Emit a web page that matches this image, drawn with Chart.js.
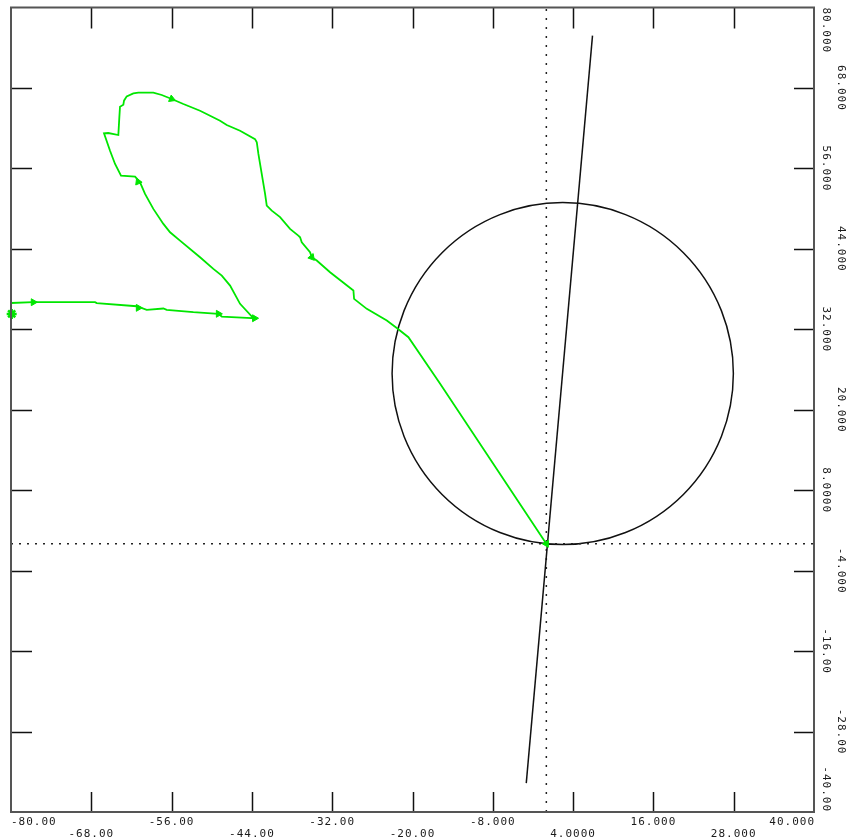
<!DOCTYPE html>
<html>
<head>
<meta charset="utf-8">
<script src="https://cdn.jsdelivr.net/npm/chart.js@4/dist/chart.umd.min.js"></script>
<style>
  html, body { margin: 0; padding: 0; background: #fff; }
  #wrap { width: 846px; height: 840px; }
</style>
</head>
<body>
<div id="wrap"><canvas id="plot" width="846" height="840"></canvas></div>
<script>
// axis ticks and their printed labels
const xTicks = [-80, -68, -56, -44, -32, -20, -8, 4, 16, 28, 40];
const xTickLabels = ["-80.00", "-68.00", "-56.00", "-44.00", "-32.00", "-20.00", "-8.000", "4.0000", "16.000", "28.000", "40.000"];
const yTicks = [80, 68, 56, 44, 32, 20, 8, -4, -16, -28, -40];
const yTickLabels = ["80.000", "68.000", "56.000", "44.000", "32.000", "20.000", "8.0000", "-4.000", "-16.00", "-28.00", "-40.00"];

// green track
const trackX = [-80, -76.67, -67.44, -67.19, -61.21, -59.72, -57.23, -56.73, -52.75, -49.01, -48.5, -44.77, -43.78,
  -45.77, -47.26, -48.5, -49.76, -51.75, -54.74, -56.23, -57.23, -58.73, -59.97, -60.72, -61.46, -63.56, -64.45, -65.2, -66.1,
  -65.46, -63.96, -63.81, -63.71, -63.21, -63.11, -62.71, -61.72, -60.97, -58.73, -57.47, -55.98, -54.24, -51.75, -50.25,
  -48.76, -47.76, -45.77, -43.53, -43.27, -43.03, -42.53, -42.03, -41.78, -41.03, -39.79, -38.3, -37.06, -36.8, -36.55,
  -35.31, -35.05, -34.31, -32.32, -28.83, -28.73, -26.83, -23.84, -22.35, -20.61, -15.87, 0];
const trackY = [35.92, 36.04, 36.04, 35.9, 35.44, 34.9, 35.1, 34.9, 34.55, 34.31, 33.9, 33.71, 33.65,
  35.8, 38.52, 40.01, 41.01, 42.74, 45.23, 46.47, 47.72, 49.96, 52.19, 53.92, 54.77, 54.92, 56.66, 58.64, 61.22,
  61.28, 60.98, 63.61, 65.2, 65.5, 66.1, 66.74, 67.18, 67.29, 67.29, 66.95, 66.35, 65.6, 64.6, 63.86,
  63.11, 62.47, 61.62, 60.36, 59.91, 58.15, 55.17, 52.19, 50.45, 49.7, 48.73, 46.97, 45.98, 45.72, 44.98,
  43.49, 42.74, 42.25, 40.51, 37.78, 36.54, 35.05, 33.31, 32.19, 30.82, 23.87, 0];

// direction arrows on the track
const arrowX = [-76.67, -60.97, -49.01, -43.6, -61.0, -55.98, -35.05, 0];
const arrowY = [36.04, 35.2, 34.31, 33.65, 54.0, 66.35, 42.74, 0];
const arrowAngle = [90, 90, 90, 90, -23, 112, 140, 150];
const startMarkX = [-79.9];
const startMarkY = [34.3];

// black reference line and circle
const refLineX = [-3.0, 6.9];
const refLineY = [-35.7, 75.8];
const circleCenter = [2.45, 25.4];
const circleRadius = 25.5;

const GREEN = "#00e600";
const FONT = '11px "DejaVu Sans Mono", "Liberation Mono", monospace';

const pts = (xs, ys) => xs.map((x, i) => ({ x, y: ys[i] }));

const framePlugin = {
  id: "frame",
  beforeDatasetsDraw(chart) {
    const { ctx, chartArea, scales } = chart;
    const cx = scales.x.getPixelForValue(circleCenter[0]);
    const cy = scales.y.getPixelForValue(circleCenter[1]);
    const rx = Math.abs(scales.x.getPixelForValue(circleCenter[0] + circleRadius) - cx);
    const ry = Math.abs(scales.y.getPixelForValue(circleCenter[1] + circleRadius) - cy);
    ctx.save();
    ctx.beginPath();
    ctx.rect(chartArea.left, chartArea.top, chartArea.right - chartArea.left, chartArea.bottom - chartArea.top);
    ctx.clip();
    ctx.beginPath();
    ctx.ellipse(cx, cy, rx, ry, 0, 0, Math.PI * 2);
    ctx.strokeStyle = "#111";
    ctx.lineWidth = 1.5;
    ctx.stroke();
    ctx.restore();
  },
  afterDraw(chart) {
    const { ctx, chartArea: a, scales } = chart;
    ctx.save();
    // inward ticks
    ctx.strokeStyle = "#111";
    ctx.lineWidth = 1.5;
    ctx.beginPath();
    xTicks.slice(1, -1).forEach((v) => {
      const px = Math.round(scales.x.getPixelForValue(v)) + 0.5;
      ctx.moveTo(px, a.top); ctx.lineTo(px, a.top + 21);
      ctx.moveTo(px, a.bottom); ctx.lineTo(px, a.bottom - 20);
    });
    yTicks.slice(1, -1).forEach((v) => {
      const py = Math.round(scales.y.getPixelForValue(v)) + 0.5;
      ctx.moveTo(a.left, py); ctx.lineTo(a.left + 21, py);
      ctx.moveTo(a.right, py); ctx.lineTo(a.right - 20, py);
    });
    ctx.stroke();

    // frame
    ctx.strokeStyle = "#555";
    ctx.lineWidth = 2;
    ctx.strokeRect(a.left, a.top, a.right - a.left, a.bottom - a.top);

    // tick labels
    ctx.font = FONT;
    ctx.letterSpacing = "1px";
    ctx.fillStyle = "#1a1a1a";
    ctx.textBaseline = "middle";
    xTicks.forEach((v, i) => {
      const px = scales.x.getPixelForValue(v);
      const py = i % 2 === 0 ? a.bottom + 10 : a.bottom + 22;
      if (i === 0) { ctx.textAlign = "left"; ctx.fillText(xTickLabels[i], a.left, py); }
      else if (i === xTicks.length - 1) { ctx.textAlign = "right"; ctx.fillText(xTickLabels[i], a.right + 1, py); }
      else { ctx.textAlign = "center"; ctx.fillText(xTickLabels[i], px, py); }
    });
    yTicks.forEach((v, i) => {
      const py = scales.y.getPixelForValue(v);
      const px = i % 2 === 0 ? a.right + 12 : a.right + 27;
      ctx.save();
      if (i === 0) { ctx.translate(px, a.top); ctx.textAlign = "left"; }
      else if (i === yTicks.length - 1) { ctx.translate(px, a.bottom); ctx.textAlign = "right"; }
      else { ctx.translate(px, py); ctx.textAlign = "center"; }
      ctx.rotate(Math.PI / 2);
      ctx.fillText(yTickLabels[i], 0, 0);
      ctx.restore();
    });
    ctx.restore();
  },
};

new Chart(document.getElementById("plot").getContext("2d"), {
  type: "scatter",
  data: {
    datasets: [
      {
        label: "arrows",
        data: pts(arrowX, arrowY),
        pointStyle: "triangle",
        rotation: arrowAngle,
        radius: 4,
        backgroundColor: GREEN,
        borderColor: GREEN,
        borderWidth: 1,
      },
      {
        label: "start",
        data: pts(startMarkX, startMarkY),
        pointStyle: "star",
        radius: 5,
        borderColor: GREEN,
        borderWidth: 2.5,
        clip: false,
      },
      {
        label: "track",
        data: pts(trackX, trackY),
        showLine: true,
        borderColor: GREEN,
        borderWidth: 1.8,
        pointRadius: 0,
        tension: 0,
      },
      {
        label: "reference line",
        data: pts(refLineX, refLineY),
        showLine: true,
        borderColor: "#111",
        borderWidth: 1.5,
        pointRadius: 0,
      },
      {
        label: "x = 0",
        data: [{ x: 0, y: -40 }, { x: 0, y: 80 }],
        showLine: true,
        borderColor: "#222",
        borderWidth: 1.5,
        borderDash: [2, 7],
        pointRadius: 0,
      },
      {
        label: "y = 0",
        data: [{ x: -80, y: 0 }, { x: 40, y: 0 }],
        showLine: true,
        borderColor: "#222",
        borderWidth: 1.5,
        borderDash: [2, 6],
        pointRadius: 0,
      },
    ],
  },
  options: {
    responsive: false,
    animation: false,
    layout: { padding: { left: 11, top: 7, right: 32, bottom: 28 } },
    plugins: { legend: { display: false }, tooltip: { enabled: false } },
    scales: {
      x: { type: "linear", min: -80, max: 40, display: false },
      y: { type: "linear", min: -40, max: 80, display: false },
    },
  },
  plugins: [framePlugin],
});
</script>
</body>
</html>
